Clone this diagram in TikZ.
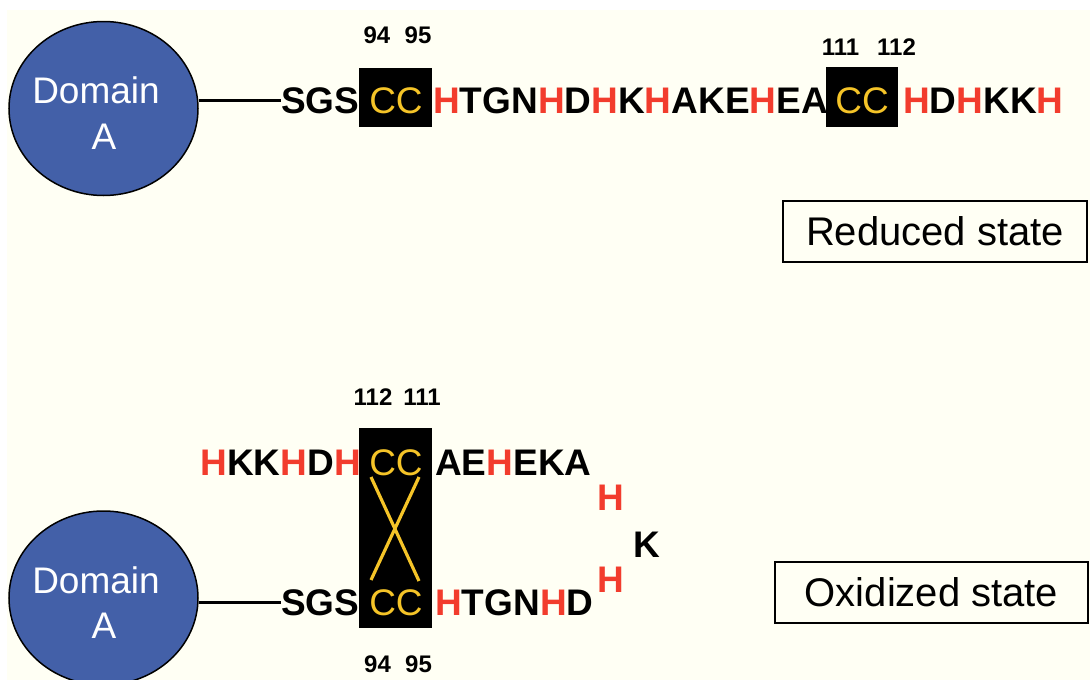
\documentclass[tikz,border=0pt]{standalone}
\usepackage{fontspec}
\setmainfont{Liberation Sans}
\usetikzlibrary{shapes.geometric}

\definecolor{cream}{RGB}{255,255,244}
\definecolor{dblue}{RGB}{67,96,168}
\definecolor{hred}{RGB}{242,60,45}
\definecolor{cyel}{RGB}{245,196,40}

\newcommand\dsSeqFont{\fontsize{37}{40}\selectfont\bfseries}
\newcommand\dsCysFont{\fontsize{37}{40}\selectfont}
\newcommand\dsNumFont{\fontsize{24}{26}\selectfont\bfseries}
\newcommand\dsDomFont{\fontsize{37}{40}\selectfont}
\newcommand\dsStateFont{\fontsize{40}{44}\selectfont}
\newcommand\rH{\textcolor{hred}{H}}

\tikzset{
  seq/.style={font=\dsSeqFont, inner sep=0pt, anchor=base west},
  seqr/.style={font=\dsSeqFont, inner sep=0pt, anchor=base east},
  cys/.style={font=\dsCysFont, text=cyel, inner sep=0pt, anchor=base},
  num/.style={font=\dsNumFont, inner sep=0pt, anchor=base},
  cbox/.style={fill=black, draw=none, inner sep=0pt},
  domainball/.style={ellipse, draw=black, line width=1.5pt, fill=dblue,
                 minimum width=189pt, minimum height=174pt, inner sep=0pt},
  domtext/.style={font=\dsDomFont, text=white, inner sep=0pt, anchor=base},
  statebox/.style={draw=black, line width=1.5pt, fill=cream, inner sep=0pt,
                   font=\dsStateFont, minimum height=61pt},
  link/.style={line width=3pt},
  bond/.style={draw=cyel, line width=3.2pt}
}

\begin{document}
\begin{tikzpicture}[x=1pt,y=-1pt]
\useasboundingbox (0,0) rectangle (1090,680);
\fill[white] (0,0) rectangle (1090,680);
\fill[cream] (7,10) rectangle (1090,680);

% ---------- reduced state ----------
\node[domainball] (domA1) at (103.5,108.5) {};
\node[domtext] (domA1t1) at (96,103) {Domain};
\node[domtext] (domA1t2) at (104,149) {A};

\node[seq] (sgs1) at (281,113) {SGS};
\node[cbox, minimum width=73pt, minimum height=59pt] (box1) at (395.5,97.5) {};
\node[cys] (cc1) at (396,113) {CC};
\node[seq] (mid1) at (433,113) {\rH TGN\rH D\rH K\rH AKE\rH EA};
\node[cbox, minimum width=72pt, minimum height=60pt] (box2) at (861.5,97) {};
\node[cys] (cc2) at (862,113) {CC};
\node[seq] (tail1) at (903,113) {\rH D\rH KK\rH};

\node[num] (n94a) at (377,43) {94};
\node[num] (n95a) at (418,43) {95};
\node[num] (n111a) at (840.5,55) {111};
\node[num] (n112a) at (896.5,55) {112};

\draw[link] (domA1.east |- sgs1.west) -- (sgs1.west);

\node[statebox, minimum width=304pt] (red) at (935,231.5) {Reduced state};

% ---------- oxidized state ----------
\node[domainball] (domA2) at (103.5,598) {};
\node[domtext] (domA2t1) at (96,593) {Domain};
\node[domtext] (domA2t2) at (104,638) {A};

\node[cbox, minimum width=73pt, minimum height=200pt] (box3) at (395.5,528) {};
\coordinate (b1) at (371,477);
\coordinate (b2) at (419,581);
\coordinate (b3) at (419,477);
\coordinate (b4) at (371,580);
\draw[bond] (b1) -- (b2);
\draw[bond] (b3) -- (b4);

\node[cys] (cc3) at (396,475) {CC};
\node[cys] (cc4) at (396,615) {CC};

\node[seq] (sgs2) at (281,615) {SGS};
\node[seq] (low2) at (435,615) {\rH TGN\rH D};
\node[seqr] (up2) at (361,475) {\rH KK\rH D\rH};
\node[seq] (upr2) at (435,475) {AE\rH EKA};
\node[seq] (h1) at (597,510) {\rH};
\node[seq] (k1) at (633,557) {K};
\node[seq] (h2) at (597,592) {\rH};

\node[num] (n112b) at (373,405) {112};
\node[num] (n111b) at (422,405) {111};
\node[num] (n94b) at (377.5,672) {94};
\node[num] (n95b) at (418.5,672) {95};

\draw[link] (domA2.east |- sgs2.west) -- (sgs2.west);

\node[statebox, minimum width=313pt] (oxi) at (931.5,592.5) {Oxidized state};
\end{tikzpicture}
\end{document}
